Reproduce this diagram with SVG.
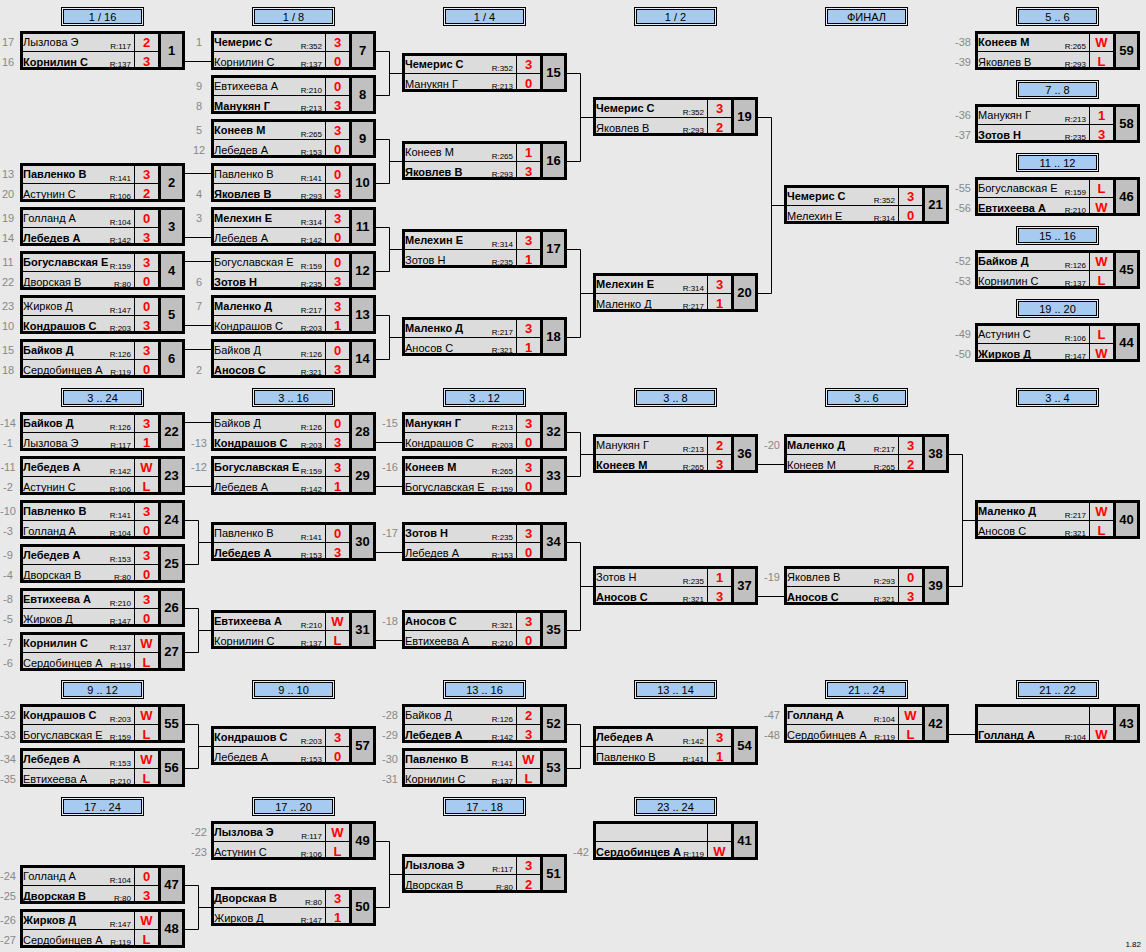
<svg xmlns="http://www.w3.org/2000/svg" xmlns:xlink="http://www.w3.org/1999/xlink" width="1146" height="952" viewBox="0 0 1146 952">
<style>
text{font-family:"Liberation Sans",Arial,sans-serif}
.n{font-size:11px;fill:#000}
.b{font-weight:bold}
.r{font-size:8px;fill:#000;text-anchor:end}
.s{font-size:13px;font-weight:bold;fill:#f00;text-anchor:middle}
.m{font-size:13px;font-weight:bold;fill:#000;text-anchor:middle}
.d{font-size:11px;fill:#888;text-anchor:middle}
.h{font-size:11px;fill:#000;text-anchor:middle}
.c{fill:none;stroke:#000;stroke-width:1}
</style>
<defs>
<g id="fr">
<rect width="165" height="39" fill="#dcdcdc"/>
<rect x="139" width="26" height="39" fill="#c0c0c0"/>
<path d="M0 20.5H139M114.5 0V39" stroke="#000" stroke-width="1"/>
<path d="M139.5 0V39" stroke="#000" stroke-width="3"/>
<rect x="1.5" y="1.5" width="162" height="36" fill="none" stroke="#000" stroke-width="3"/>
</g>
<g id="hf">
<rect x="0.5" y="0.5" width="82" height="18" fill="#e4ecf6" stroke="#000"/>
<rect x="2.5" y="2.5" width="78" height="14" fill="#a6caf0" stroke="#000"/>
</g>
</defs>
<rect width="1146" height="952" fill="#e9e9e9"/>

<g id="headers">
<g transform="translate(61,7)"><use href="#hf"/><text class="h" x="41.5" y="14">1 / 16</text></g>
<g transform="translate(252,7)"><use href="#hf"/><text class="h" x="41.5" y="14">1 / 8</text></g>
<g transform="translate(443,7)"><use href="#hf"/><text class="h" x="41.5" y="14">1 / 4</text></g>
<g transform="translate(634,7)"><use href="#hf"/><text class="h" x="41.5" y="14">1 / 2</text></g>
<g transform="translate(825,7)"><use href="#hf"/><text class="h" x="41.5" y="14">ФИНАЛ</text></g>
<g transform="translate(1016,7)"><use href="#hf"/><text class="h" x="41.5" y="14">5 .. 6</text></g>
<g transform="translate(1016,80)"><use href="#hf"/><text class="h" x="41.5" y="14">7 .. 8</text></g>
<g transform="translate(1016,153)"><use href="#hf"/><text class="h" x="41.5" y="14">11 .. 12</text></g>
<g transform="translate(1016,226)"><use href="#hf"/><text class="h" x="41.5" y="14">15 .. 16</text></g>
<g transform="translate(1016,299)"><use href="#hf"/><text class="h" x="41.5" y="14">19 .. 20</text></g>
<g transform="translate(61,388)"><use href="#hf"/><text class="h" x="41.5" y="14">3 .. 24</text></g>
<g transform="translate(252,388)"><use href="#hf"/><text class="h" x="41.5" y="14">3 .. 16</text></g>
<g transform="translate(443,388)"><use href="#hf"/><text class="h" x="41.5" y="14">3 .. 12</text></g>
<g transform="translate(634,388)"><use href="#hf"/><text class="h" x="41.5" y="14">3 .. 8</text></g>
<g transform="translate(825,388)"><use href="#hf"/><text class="h" x="41.5" y="14">3 .. 6</text></g>
<g transform="translate(1016,388)"><use href="#hf"/><text class="h" x="41.5" y="14">3 .. 4</text></g>
<g transform="translate(61,680)"><use href="#hf"/><text class="h" x="41.5" y="14">9 .. 12</text></g>
<g transform="translate(252,680)"><use href="#hf"/><text class="h" x="41.5" y="14">9 .. 10</text></g>
<g transform="translate(443,680)"><use href="#hf"/><text class="h" x="41.5" y="14">13 .. 16</text></g>
<g transform="translate(634,680)"><use href="#hf"/><text class="h" x="41.5" y="14">13 .. 14</text></g>
<g transform="translate(825,680)"><use href="#hf"/><text class="h" x="41.5" y="14">21 .. 24</text></g>
<g transform="translate(1016,680)"><use href="#hf"/><text class="h" x="41.5" y="14">21 .. 22</text></g>
<g transform="translate(61,797)"><use href="#hf"/><text class="h" x="41.5" y="14">17 .. 24</text></g>
<g transform="translate(252,797)"><use href="#hf"/><text class="h" x="41.5" y="14">17 .. 20</text></g>
<g transform="translate(443,797)"><use href="#hf"/><text class="h" x="41.5" y="14">17 .. 18</text></g>
<g transform="translate(634,797)"><use href="#hf"/><text class="h" x="41.5" y="14">23 .. 24</text></g>
</g>

<g id="connectors" class="c">
<path d="M185 61.5H211M185 173.5H211M185 237.5H211M185 261.5H211M185 325.5H211M185 349.5H211"/>
<path d="M376 51.5H389.5V95.5H376M389.5 73.5H402"/>
<path d="M376 139.5H389.5V183.5H376M389.5 161.5H402"/>
<path d="M376 227.5H389.5V271.5H376M389.5 249.5H402"/>
<path d="M376 315.5H389.5V359.5H376M389.5 337.5H402"/>
<path d="M567 73.5H580.5V161.5H567M580.5 117.5H593"/>
<path d="M567 249.5H580.5V337.5H567M580.5 293.5H593"/>
<path d="M758 117.5H771.5V293.5H758M771.5 205.5H784"/>
<path d="M185 422.5H211M185 486.5H211"/>
<path d="M185 520.5H198.5V564.5H185M198.5 542.5H211"/>
<path d="M185 608.5H198.5V652.5H185M198.5 630.5H211"/>
<path d="M376 442.5H402M376 486.5H402M376 552.5H402M376 640.5H402"/>
<path d="M567 432.5H580.5V476.5H567M580.5 454.5H593"/>
<path d="M567 542.5H580.5V630.5H567M580.5 586.5H593"/>
<path d="M758 464.5H784M758 596.5H784"/>
<path d="M949 454.5H962.5V586.5H949M962.5 520.5H975"/>
<path d="M185 724.5H198.5V768.5H185M198.5 746.5H211"/>
<path d="M567 724.5H580.5V768.5H567M580.5 746.5H593"/>
<path d="M949 734.5H975"/>
<path d="M185 885.5H198.5V929.5H185M198.5 907.5H211"/>
<path d="M376 841.5H389.5V907.5H376M389.5 874.5H402"/>
</g>

<g id="m1" transform="translate(20,31)"><use href="#fr"/><text class="d" x="-12" y="15">17</text><text class="d" x="-12" y="34.5">16</text><text class="n" x="3" y="15">Лызлова Э</text><text class="n b" x="3" y="34.5">Корнилин С</text><text class="r" x="111" y="17.5">R:117</text><text class="r" x="111" y="36">R:137</text><text class="s" x="126.5" y="15.5">2</text><text class="s" x="126.5" y="35">3</text><text class="m" x="151.5" y="24">1</text></g>
<g id="m2" transform="translate(20,163)"><use href="#fr"/><text class="d" x="-12" y="15">13</text><text class="d" x="-12" y="34.5">20</text><text class="n b" x="3" y="15">Павленко В</text><text class="n" x="3" y="34.5">Астунин С</text><text class="r" x="111" y="17.5">R:141</text><text class="r" x="111" y="36">R:106</text><text class="s" x="126.5" y="15.5">3</text><text class="s" x="126.5" y="35">2</text><text class="m" x="151.5" y="24">2</text></g>
<g id="m3" transform="translate(20,207)"><use href="#fr"/><text class="d" x="-12" y="15">19</text><text class="d" x="-12" y="34.5">14</text><text class="n" x="3" y="15">Голланд А</text><text class="n b" x="3" y="34.5">Лебедев А</text><text class="r" x="111" y="17.5">R:104</text><text class="r" x="111" y="36">R:142</text><text class="s" x="126.5" y="15.5">0</text><text class="s" x="126.5" y="35">3</text><text class="m" x="151.5" y="24">3</text></g>
<g id="m4" transform="translate(20,251)"><use href="#fr"/><text class="d" x="-12" y="15">11</text><text class="d" x="-12" y="34.5">22</text><text class="n b" x="3" y="15">Богуславская Е</text><text class="n" x="3" y="34.5">Дворская В</text><text class="r" x="111" y="17.5">R:159</text><text class="r" x="111" y="36">R:80</text><text class="s" x="126.5" y="15.5">3</text><text class="s" x="126.5" y="35">0</text><text class="m" x="151.5" y="24">4</text></g>
<g id="m5" transform="translate(20,295)"><use href="#fr"/><text class="d" x="-12" y="15">23</text><text class="d" x="-12" y="34.5">10</text><text class="n" x="3" y="15">Жирков Д</text><text class="n b" x="3" y="34.5">Кондрашов С</text><text class="r" x="111" y="17.5">R:147</text><text class="r" x="111" y="36">R:203</text><text class="s" x="126.5" y="15.5">0</text><text class="s" x="126.5" y="35">3</text><text class="m" x="151.5" y="24">5</text></g>
<g id="m6" transform="translate(20,339)"><use href="#fr"/><text class="d" x="-12" y="15">15</text><text class="d" x="-12" y="34.5">18</text><text class="n b" x="3" y="15">Байков Д</text><text class="n" x="3" y="34.5">Сердобинцев А</text><text class="r" x="111" y="17.5">R:126</text><text class="r" x="111" y="36">R:119</text><text class="s" x="126.5" y="15.5">3</text><text class="s" x="126.5" y="35">0</text><text class="m" x="151.5" y="24">6</text></g>

<g id="m7" transform="translate(211,31)"><use href="#fr"/><text class="d" x="-12" y="15">1</text><text class="n b" x="3" y="15">Чемерис С</text><text class="n" x="3" y="34.5">Корнилин С</text><text class="r" x="111" y="17.5">R:352</text><text class="r" x="111" y="36">R:137</text><text class="s" x="126.5" y="15.5">3</text><text class="s" x="126.5" y="35">0</text><text class="m" x="151.5" y="24">7</text></g>
<g id="m8" transform="translate(211,75)"><use href="#fr"/><text class="d" x="-12" y="15">9</text><text class="d" x="-12" y="34.5">8</text><text class="n" x="3" y="15">Евтихеева А</text><text class="n b" x="3" y="34.5">Манукян Г</text><text class="r" x="111" y="17.5">R:210</text><text class="r" x="111" y="36">R:213</text><text class="s" x="126.5" y="15.5">0</text><text class="s" x="126.5" y="35">3</text><text class="m" x="151.5" y="24">8</text></g>
<g id="m9" transform="translate(211,119)"><use href="#fr"/><text class="d" x="-12" y="15">5</text><text class="d" x="-12" y="34.5">12</text><text class="n b" x="3" y="15">Конеев М</text><text class="n" x="3" y="34.5">Лебедев А</text><text class="r" x="111" y="17.5">R:265</text><text class="r" x="111" y="36">R:153</text><text class="s" x="126.5" y="15.5">3</text><text class="s" x="126.5" y="35">0</text><text class="m" x="151.5" y="24">9</text></g>
<g id="m10" transform="translate(211,163)"><use href="#fr"/><text class="d" x="-12" y="34.5">4</text><text class="n" x="3" y="15">Павленко В</text><text class="n b" x="3" y="34.5">Яковлев В</text><text class="r" x="111" y="17.5">R:141</text><text class="r" x="111" y="36">R:293</text><text class="s" x="126.5" y="15.5">0</text><text class="s" x="126.5" y="35">3</text><text class="m" x="151.5" y="24">10</text></g>
<g id="m11" transform="translate(211,207)"><use href="#fr"/><text class="d" x="-12" y="15">3</text><text class="n b" x="3" y="15">Мелехин Е</text><text class="n" x="3" y="34.5">Лебедев А</text><text class="r" x="111" y="17.5">R:314</text><text class="r" x="111" y="36">R:142</text><text class="s" x="126.5" y="15.5">3</text><text class="s" x="126.5" y="35">0</text><text class="m" x="151.5" y="24">11</text></g>
<g id="m12" transform="translate(211,251)"><use href="#fr"/><text class="d" x="-12" y="34.5">6</text><text class="n" x="3" y="15">Богуславская Е</text><text class="n b" x="3" y="34.5">Зотов Н</text><text class="r" x="111" y="17.5">R:159</text><text class="r" x="111" y="36">R:235</text><text class="s" x="126.5" y="15.5">0</text><text class="s" x="126.5" y="35">3</text><text class="m" x="151.5" y="24">12</text></g>
<g id="m13" transform="translate(211,295)"><use href="#fr"/><text class="d" x="-12" y="15">7</text><text class="n b" x="3" y="15">Маленко Д</text><text class="n" x="3" y="34.5">Кондрашов С</text><text class="r" x="111" y="17.5">R:217</text><text class="r" x="111" y="36">R:203</text><text class="s" x="126.5" y="15.5">3</text><text class="s" x="126.5" y="35">1</text><text class="m" x="151.5" y="24">13</text></g>
<g id="m14" transform="translate(211,339)"><use href="#fr"/><text class="d" x="-12" y="34.5">2</text><text class="n" x="3" y="15">Байков Д</text><text class="n b" x="3" y="34.5">Аносов С</text><text class="r" x="111" y="17.5">R:126</text><text class="r" x="111" y="36">R:321</text><text class="s" x="126.5" y="15.5">0</text><text class="s" x="126.5" y="35">3</text><text class="m" x="151.5" y="24">14</text></g>

<g id="m15" transform="translate(402,53)"><use href="#fr"/><text class="n b" x="3" y="15">Чемерис С</text><text class="n" x="3" y="34.5">Манукян Г</text><text class="r" x="111" y="17.5">R:352</text><text class="r" x="111" y="36">R:213</text><text class="s" x="126.5" y="15.5">3</text><text class="s" x="126.5" y="35">0</text><text class="m" x="151.5" y="24">15</text></g>
<g id="m16" transform="translate(402,141)"><use href="#fr"/><text class="n" x="3" y="15">Конеев М</text><text class="n b" x="3" y="34.5">Яковлев В</text><text class="r" x="111" y="17.5">R:265</text><text class="r" x="111" y="36">R:293</text><text class="s" x="126.5" y="15.5">1</text><text class="s" x="126.5" y="35">3</text><text class="m" x="151.5" y="24">16</text></g>
<g id="m17" transform="translate(402,229)"><use href="#fr"/><text class="n b" x="3" y="15">Мелехин Е</text><text class="n" x="3" y="34.5">Зотов Н</text><text class="r" x="111" y="17.5">R:314</text><text class="r" x="111" y="36">R:235</text><text class="s" x="126.5" y="15.5">3</text><text class="s" x="126.5" y="35">1</text><text class="m" x="151.5" y="24">17</text></g>
<g id="m18" transform="translate(402,317)"><use href="#fr"/><text class="n b" x="3" y="15">Маленко Д</text><text class="n" x="3" y="34.5">Аносов С</text><text class="r" x="111" y="17.5">R:217</text><text class="r" x="111" y="36">R:321</text><text class="s" x="126.5" y="15.5">3</text><text class="s" x="126.5" y="35">1</text><text class="m" x="151.5" y="24">18</text></g>

<g id="m19" transform="translate(593,97)"><use href="#fr"/><text class="n b" x="3" y="15">Чемерис С</text><text class="n" x="3" y="34.5">Яковлев В</text><text class="r" x="111" y="17.5">R:352</text><text class="r" x="111" y="36">R:293</text><text class="s" x="126.5" y="15.5">3</text><text class="s" x="126.5" y="35">2</text><text class="m" x="151.5" y="24">19</text></g>
<g id="m20" transform="translate(593,273)"><use href="#fr"/><text class="n b" x="3" y="15">Мелехин Е</text><text class="n" x="3" y="34.5">Маленко Д</text><text class="r" x="111" y="17.5">R:314</text><text class="r" x="111" y="36">R:217</text><text class="s" x="126.5" y="15.5">3</text><text class="s" x="126.5" y="35">1</text><text class="m" x="151.5" y="24">20</text></g>
<g id="m21" transform="translate(784,185)"><use href="#fr"/><text class="n b" x="3" y="15">Чемерис С</text><text class="n" x="3" y="34.5">Мелехин Е</text><text class="r" x="111" y="17.5">R:352</text><text class="r" x="111" y="36">R:314</text><text class="s" x="126.5" y="15.5">3</text><text class="s" x="126.5" y="35">0</text><text class="m" x="151.5" y="24">21</text></g>

<g id="m59" transform="translate(975,31)"><use href="#fr"/><text class="d" x="-12" y="15">-38</text><text class="d" x="-12" y="34.5">-39</text><text class="n b" x="3" y="15">Конеев М</text><text class="n" x="3" y="34.5">Яковлев В</text><text class="r" x="111" y="17.5">R:265</text><text class="r" x="111" y="36">R:293</text><text class="s" x="126.5" y="15.5">W</text><text class="s" x="126.5" y="35">L</text><text class="m" x="151.5" y="24">59</text></g>
<g id="m58" transform="translate(975,104)"><use href="#fr"/><text class="d" x="-12" y="15">-36</text><text class="d" x="-12" y="34.5">-37</text><text class="n" x="3" y="15">Манукян Г</text><text class="n b" x="3" y="34.5">Зотов Н</text><text class="r" x="111" y="17.5">R:213</text><text class="r" x="111" y="36">R:235</text><text class="s" x="126.5" y="15.5">1</text><text class="s" x="126.5" y="35">3</text><text class="m" x="151.5" y="24">58</text></g>
<g id="m46" transform="translate(975,177)"><use href="#fr"/><text class="d" x="-12" y="15">-55</text><text class="d" x="-12" y="34.5">-56</text><text class="n" x="3" y="15">Богуславская Е</text><text class="n b" x="3" y="34.5">Евтихеева А</text><text class="r" x="111" y="17.5">R:159</text><text class="r" x="111" y="36">R:210</text><text class="s" x="126.5" y="15.5">L</text><text class="s" x="126.5" y="35">W</text><text class="m" x="151.5" y="24">46</text></g>
<g id="m45" transform="translate(975,250)"><use href="#fr"/><text class="d" x="-12" y="15">-52</text><text class="d" x="-12" y="34.5">-53</text><text class="n b" x="3" y="15">Байков Д</text><text class="n" x="3" y="34.5">Корнилин С</text><text class="r" x="111" y="17.5">R:126</text><text class="r" x="111" y="36">R:137</text><text class="s" x="126.5" y="15.5">W</text><text class="s" x="126.5" y="35">L</text><text class="m" x="151.5" y="24">45</text></g>
<g id="m44" transform="translate(975,323)"><use href="#fr"/><text class="d" x="-12" y="15">-49</text><text class="d" x="-12" y="34.5">-50</text><text class="n" x="3" y="15">Астунин С</text><text class="n b" x="3" y="34.5">Жирков Д</text><text class="r" x="111" y="17.5">R:106</text><text class="r" x="111" y="36">R:147</text><text class="s" x="126.5" y="15.5">L</text><text class="s" x="126.5" y="35">W</text><text class="m" x="151.5" y="24">44</text></g>

<g id="m22" transform="translate(20,412)"><use href="#fr"/><text class="d" x="-12" y="15">-14</text><text class="d" x="-12" y="34.5">-1</text><text class="n b" x="3" y="15">Байков Д</text><text class="n" x="3" y="34.5">Лызлова Э</text><text class="r" x="111" y="17.5">R:126</text><text class="r" x="111" y="36">R:117</text><text class="s" x="126.5" y="15.5">3</text><text class="s" x="126.5" y="35">1</text><text class="m" x="151.5" y="24">22</text></g>
<g id="m23" transform="translate(20,456)"><use href="#fr"/><text class="d" x="-12" y="15">-11</text><text class="d" x="-12" y="34.5">-2</text><text class="n b" x="3" y="15">Лебедев А</text><text class="n" x="3" y="34.5">Астунин С</text><text class="r" x="111" y="17.5">R:142</text><text class="r" x="111" y="36">R:106</text><text class="s" x="126.5" y="15.5">W</text><text class="s" x="126.5" y="35">L</text><text class="m" x="151.5" y="24">23</text></g>
<g id="m24" transform="translate(20,500)"><use href="#fr"/><text class="d" x="-12" y="15">-10</text><text class="d" x="-12" y="34.5">-3</text><text class="n b" x="3" y="15">Павленко В</text><text class="n" x="3" y="34.5">Голланд А</text><text class="r" x="111" y="17.5">R:141</text><text class="r" x="111" y="36">R:104</text><text class="s" x="126.5" y="15.5">3</text><text class="s" x="126.5" y="35">0</text><text class="m" x="151.5" y="24">24</text></g>
<g id="m25" transform="translate(20,544)"><use href="#fr"/><text class="d" x="-12" y="15">-9</text><text class="d" x="-12" y="34.5">-4</text><text class="n b" x="3" y="15">Лебедев А</text><text class="n" x="3" y="34.5">Дворская В</text><text class="r" x="111" y="17.5">R:153</text><text class="r" x="111" y="36">R:80</text><text class="s" x="126.5" y="15.5">3</text><text class="s" x="126.5" y="35">0</text><text class="m" x="151.5" y="24">25</text></g>
<g id="m26" transform="translate(20,588)"><use href="#fr"/><text class="d" x="-12" y="15">-8</text><text class="d" x="-12" y="34.5">-5</text><text class="n b" x="3" y="15">Евтихеева А</text><text class="n" x="3" y="34.5">Жирков Д</text><text class="r" x="111" y="17.5">R:210</text><text class="r" x="111" y="36">R:147</text><text class="s" x="126.5" y="15.5">3</text><text class="s" x="126.5" y="35">0</text><text class="m" x="151.5" y="24">26</text></g>
<g id="m27" transform="translate(20,632)"><use href="#fr"/><text class="d" x="-12" y="15">-7</text><text class="d" x="-12" y="34.5">-6</text><text class="n b" x="3" y="15">Корнилин С</text><text class="n" x="3" y="34.5">Сердобинцев А</text><text class="r" x="111" y="17.5">R:137</text><text class="r" x="111" y="36">R:119</text><text class="s" x="126.5" y="15.5">W</text><text class="s" x="126.5" y="35">L</text><text class="m" x="151.5" y="24">27</text></g>

<g id="m28" transform="translate(211,412)"><use href="#fr"/><text class="d" x="-12" y="34.5">-13</text><text class="n" x="3" y="15">Байков Д</text><text class="n b" x="3" y="34.5">Кондрашов С</text><text class="r" x="111" y="17.5">R:126</text><text class="r" x="111" y="36">R:203</text><text class="s" x="126.5" y="15.5">0</text><text class="s" x="126.5" y="35">3</text><text class="m" x="151.5" y="24">28</text></g>
<g id="m29" transform="translate(211,456)"><use href="#fr"/><text class="d" x="-12" y="15">-12</text><text class="n b" x="3" y="15">Богуславская Е</text><text class="n" x="3" y="34.5">Лебедев А</text><text class="r" x="111" y="17.5">R:159</text><text class="r" x="111" y="36">R:142</text><text class="s" x="126.5" y="15.5">3</text><text class="s" x="126.5" y="35">1</text><text class="m" x="151.5" y="24">29</text></g>
<g id="m30" transform="translate(211,522)"><use href="#fr"/><text class="n" x="3" y="15">Павленко В</text><text class="n b" x="3" y="34.5">Лебедев А</text><text class="r" x="111" y="17.5">R:141</text><text class="r" x="111" y="36">R:153</text><text class="s" x="126.5" y="15.5">0</text><text class="s" x="126.5" y="35">3</text><text class="m" x="151.5" y="24">30</text></g>
<g id="m31" transform="translate(211,610)"><use href="#fr"/><text class="n b" x="3" y="15">Евтихеева А</text><text class="n" x="3" y="34.5">Корнилин С</text><text class="r" x="111" y="17.5">R:210</text><text class="r" x="111" y="36">R:137</text><text class="s" x="126.5" y="15.5">W</text><text class="s" x="126.5" y="35">L</text><text class="m" x="151.5" y="24">31</text></g>

<g id="m32" transform="translate(402,412)"><use href="#fr"/><text class="d" x="-12" y="15">-15</text><text class="n b" x="3" y="15">Манукян Г</text><text class="n" x="3" y="34.5">Кондрашов С</text><text class="r" x="111" y="17.5">R:213</text><text class="r" x="111" y="36">R:203</text><text class="s" x="126.5" y="15.5">3</text><text class="s" x="126.5" y="35">0</text><text class="m" x="151.5" y="24">32</text></g>
<g id="m33" transform="translate(402,456)"><use href="#fr"/><text class="d" x="-12" y="15">-16</text><text class="n b" x="3" y="15">Конеев М</text><text class="n" x="3" y="34.5">Богуславская Е</text><text class="r" x="111" y="17.5">R:265</text><text class="r" x="111" y="36">R:159</text><text class="s" x="126.5" y="15.5">3</text><text class="s" x="126.5" y="35">0</text><text class="m" x="151.5" y="24">33</text></g>
<g id="m34" transform="translate(402,522)"><use href="#fr"/><text class="d" x="-12" y="15">-17</text><text class="n b" x="3" y="15">Зотов Н</text><text class="n" x="3" y="34.5">Лебедев А</text><text class="r" x="111" y="17.5">R:235</text><text class="r" x="111" y="36">R:153</text><text class="s" x="126.5" y="15.5">3</text><text class="s" x="126.5" y="35">0</text><text class="m" x="151.5" y="24">34</text></g>
<g id="m35" transform="translate(402,610)"><use href="#fr"/><text class="d" x="-12" y="15">-18</text><text class="n b" x="3" y="15">Аносов С</text><text class="n" x="3" y="34.5">Евтихеева А</text><text class="r" x="111" y="17.5">R:321</text><text class="r" x="111" y="36">R:210</text><text class="s" x="126.5" y="15.5">3</text><text class="s" x="126.5" y="35">0</text><text class="m" x="151.5" y="24">35</text></g>

<g id="m36" transform="translate(593,434)"><use href="#fr"/><text class="n" x="3" y="15">Манукян Г</text><text class="n b" x="3" y="34.5">Конеев М</text><text class="r" x="111" y="17.5">R:213</text><text class="r" x="111" y="36">R:265</text><text class="s" x="126.5" y="15.5">2</text><text class="s" x="126.5" y="35">3</text><text class="m" x="151.5" y="24">36</text></g>
<g id="m37" transform="translate(593,566)"><use href="#fr"/><text class="n" x="3" y="15">Зотов Н</text><text class="n b" x="3" y="34.5">Аносов С</text><text class="r" x="111" y="17.5">R:235</text><text class="r" x="111" y="36">R:321</text><text class="s" x="126.5" y="15.5">1</text><text class="s" x="126.5" y="35">3</text><text class="m" x="151.5" y="24">37</text></g>
<g id="m38" transform="translate(784,434)"><use href="#fr"/><text class="d" x="-12" y="15">-20</text><text class="n b" x="3" y="15">Маленко Д</text><text class="n" x="3" y="34.5">Конеев М</text><text class="r" x="111" y="17.5">R:217</text><text class="r" x="111" y="36">R:265</text><text class="s" x="126.5" y="15.5">3</text><text class="s" x="126.5" y="35">2</text><text class="m" x="151.5" y="24">38</text></g>
<g id="m39" transform="translate(784,566)"><use href="#fr"/><text class="d" x="-12" y="15">-19</text><text class="n" x="3" y="15">Яковлев В</text><text class="n b" x="3" y="34.5">Аносов С</text><text class="r" x="111" y="17.5">R:293</text><text class="r" x="111" y="36">R:321</text><text class="s" x="126.5" y="15.5">0</text><text class="s" x="126.5" y="35">3</text><text class="m" x="151.5" y="24">39</text></g>
<g id="m40" transform="translate(975,500)"><use href="#fr"/><text class="n b" x="3" y="15">Маленко Д</text><text class="n" x="3" y="34.5">Аносов С</text><text class="r" x="111" y="17.5">R:217</text><text class="r" x="111" y="36">R:321</text><text class="s" x="126.5" y="15.5">W</text><text class="s" x="126.5" y="35">L</text><text class="m" x="151.5" y="24">40</text></g>

<g id="m55" transform="translate(20,704)"><use href="#fr"/><text class="d" x="-12" y="15">-32</text><text class="d" x="-12" y="34.5">-33</text><text class="n b" x="3" y="15">Кондрашов С</text><text class="n" x="3" y="34.5">Богуславская Е</text><text class="r" x="111" y="17.5">R:203</text><text class="r" x="111" y="36">R:159</text><text class="s" x="126.5" y="15.5">W</text><text class="s" x="126.5" y="35">L</text><text class="m" x="151.5" y="24">55</text></g>
<g id="m56" transform="translate(20,748)"><use href="#fr"/><text class="d" x="-12" y="15">-34</text><text class="d" x="-12" y="34.5">-35</text><text class="n b" x="3" y="15">Лебедев А</text><text class="n" x="3" y="34.5">Евтихеева А</text><text class="r" x="111" y="17.5">R:153</text><text class="r" x="111" y="36">R:210</text><text class="s" x="126.5" y="15.5">W</text><text class="s" x="126.5" y="35">L</text><text class="m" x="151.5" y="24">56</text></g>
<g id="m57" transform="translate(211,726)"><use href="#fr"/><text class="n b" x="3" y="15">Кондрашов С</text><text class="n" x="3" y="34.5">Лебедев А</text><text class="r" x="111" y="17.5">R:203</text><text class="r" x="111" y="36">R:153</text><text class="s" x="126.5" y="15.5">3</text><text class="s" x="126.5" y="35">0</text><text class="m" x="151.5" y="24">57</text></g>
<g id="m52" transform="translate(402,704)"><use href="#fr"/><text class="d" x="-12" y="15">-28</text><text class="d" x="-12" y="34.5">-29</text><text class="n" x="3" y="15">Байков Д</text><text class="n b" x="3" y="34.5">Лебедев А</text><text class="r" x="111" y="17.5">R:126</text><text class="r" x="111" y="36">R:142</text><text class="s" x="126.5" y="15.5">2</text><text class="s" x="126.5" y="35">3</text><text class="m" x="151.5" y="24">52</text></g>
<g id="m53" transform="translate(402,748)"><use href="#fr"/><text class="d" x="-12" y="15">-30</text><text class="d" x="-12" y="34.5">-31</text><text class="n b" x="3" y="15">Павленко В</text><text class="n" x="3" y="34.5">Корнилин С</text><text class="r" x="111" y="17.5">R:141</text><text class="r" x="111" y="36">R:137</text><text class="s" x="126.5" y="15.5">W</text><text class="s" x="126.5" y="35">L</text><text class="m" x="151.5" y="24">53</text></g>
<g id="m54" transform="translate(593,726)"><use href="#fr"/><text class="n b" x="3" y="15">Лебедев А</text><text class="n" x="3" y="34.5">Павленко В</text><text class="r" x="111" y="17.5">R:142</text><text class="r" x="111" y="36">R:141</text><text class="s" x="126.5" y="15.5">3</text><text class="s" x="126.5" y="35">1</text><text class="m" x="151.5" y="24">54</text></g>
<g id="m42" transform="translate(784,704)"><use href="#fr"/><text class="d" x="-12" y="15">-47</text><text class="d" x="-12" y="34.5">-48</text><text class="n b" x="3" y="15">Голланд А</text><text class="n" x="3" y="34.5">Сердобинцев А</text><text class="r" x="111" y="17.5">R:104</text><text class="r" x="111" y="36">R:119</text><text class="s" x="126.5" y="15.5">W</text><text class="s" x="126.5" y="35">L</text><text class="m" x="151.5" y="24">42</text></g>
<g id="m43" transform="translate(975,704)"><use href="#fr"/><text class="n b" x="3" y="34.5">Голланд А</text><text class="r" x="111" y="36">R:104</text><text class="s" x="126.5" y="35">W</text><text class="m" x="151.5" y="24">43</text></g>

<g id="m47" transform="translate(20,865)"><use href="#fr"/><text class="d" x="-12" y="15">-24</text><text class="d" x="-12" y="34.5">-25</text><text class="n" x="3" y="15">Голланд А</text><text class="n b" x="3" y="34.5">Дворская В</text><text class="r" x="111" y="17.5">R:104</text><text class="r" x="111" y="36">R:80</text><text class="s" x="126.5" y="15.5">0</text><text class="s" x="126.5" y="35">3</text><text class="m" x="151.5" y="24">47</text></g>
<g id="m48" transform="translate(20,909)"><use href="#fr"/><text class="d" x="-12" y="15">-26</text><text class="d" x="-12" y="34.5">-27</text><text class="n b" x="3" y="15">Жирков Д</text><text class="n" x="3" y="34.5">Сердобинцев А</text><text class="r" x="111" y="17.5">R:147</text><text class="r" x="111" y="36">R:119</text><text class="s" x="126.5" y="15.5">W</text><text class="s" x="126.5" y="35">L</text><text class="m" x="151.5" y="24">48</text></g>
<g id="m49" transform="translate(211,821)"><use href="#fr"/><text class="d" x="-12" y="15">-22</text><text class="d" x="-12" y="34.5">-23</text><text class="n b" x="3" y="15">Лызлова Э</text><text class="n" x="3" y="34.5">Астунин С</text><text class="r" x="111" y="17.5">R:117</text><text class="r" x="111" y="36">R:106</text><text class="s" x="126.5" y="15.5">W</text><text class="s" x="126.5" y="35">L</text><text class="m" x="151.5" y="24">49</text></g>
<g id="m50" transform="translate(211,887)"><use href="#fr"/><text class="n b" x="3" y="15">Дворская В</text><text class="n" x="3" y="34.5">Жирков Д</text><text class="r" x="111" y="17.5">R:80</text><text class="r" x="111" y="36">R:147</text><text class="s" x="126.5" y="15.5">3</text><text class="s" x="126.5" y="35">1</text><text class="m" x="151.5" y="24">50</text></g>
<g id="m51" transform="translate(402,854)"><use href="#fr"/><text class="n b" x="3" y="15">Лызлова Э</text><text class="n" x="3" y="34.5">Дворская В</text><text class="r" x="111" y="17.5">R:117</text><text class="r" x="111" y="36">R:80</text><text class="s" x="126.5" y="15.5">3</text><text class="s" x="126.5" y="35">2</text><text class="m" x="151.5" y="24">51</text></g>
<g id="m41" transform="translate(593,821)"><use href="#fr"/><text class="d" x="-12" y="34.5">-42</text><text class="n b" x="3" y="34.5">Сердобинцев А</text><text class="r" x="111" y="36">R:119</text><text class="s" x="126.5" y="35">W</text><text class="m" x="151.5" y="24">41</text></g>

<text x="1141" y="947" style="font-size:8px;fill:#000;text-anchor:end">1.82</text>
</svg>
